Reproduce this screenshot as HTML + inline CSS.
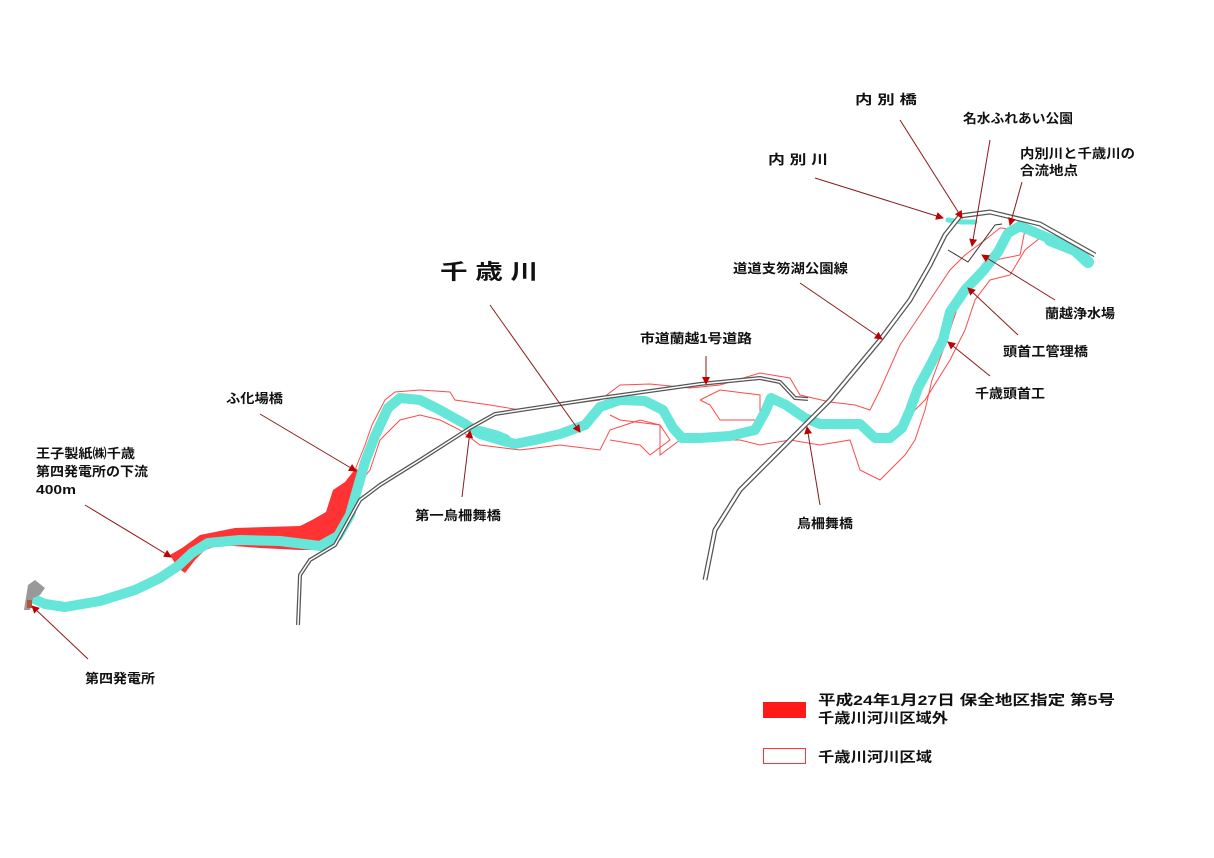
<!DOCTYPE html>
<html><head><meta charset="utf-8"><style>
html,body{margin:0;padding:0;background:#fff;}
svg{display:block;}
text{font-family:"Liberation Sans","Noto Sans CJK JP",sans-serif;font-weight:bold;fill:#111;}
</style></head><body>
<svg width="1214" height="858" viewBox="0 0 1214 858" xmlns="http://www.w3.org/2000/svg">
<defs>
<marker id="ar" markerWidth="8" markerHeight="8" refX="7" refY="4" orient="auto" markerUnits="userSpaceOnUse">
<path d="M0,0 L8,4 L0,8 z" fill="#c00000"/></marker>
</defs>

<g fill="none" stroke="#ff4a4a" stroke-width="1">
<polyline points="355,470 365,445 372,425 385,400 395,392 420,390 450,392 455,400 490,405 520,410 600,400 620,385 650,384 690,388 720,385 760,373 790,378 800,395 830,402 855,405 870,410 880,390 900,345 910,330 930,300 950,270 965,255 985,240 1000,228 1025,230 1020,255 985,262 960,300 950,330 945,345 932,380 925,410 915,440 905,455 890,470 880,480 860,470 850,440 820,445 790,440 760,445 740,440 700,440 680,440 660,455 660,425 640,420 610,430 600,450 560,445 520,450 480,445 460,430 440,420 420,415 400,420 380,440 370,470 362,480"/>
<polyline points="700,400 720,390 760,395 760,420 720,420 710,405 700,400"/>
<polyline points="610,415 620,420 660,425 670,440 650,455 640,445 610,440"/>
<polyline points="880,440 900,425 925,400 950,360 965,330 975,300 990,280 1010,275 1025,250 1040,238"/>
</g>

<polygon fill="#ff3333" points="170,555 182,548 200,535 235,528 300,526 312,520 326,512 333,490 345,482 356,468 362,476 358,500 350,520 340,538 325,550 300,550 260,548 220,545 205,550 195,560 185,573 178,568"/>

<g fill="none" stroke="#66e6d8" stroke-linejoin="round" stroke-linecap="round">
<polyline stroke-width="10" points="32,598 45,604 65,607 100,601 135,590 160,578 178,566 192,553 208,543 240,540 280,541 320,546 338,536 350,515 357,490 365,462 375,436 388,408 400,398 420,400 440,410 465,424 480,434 500,440 515,444 535,440 560,434 585,425 600,407 620,400 645,401 663,410 673,428 682,438 700,438 730,436 755,430 765,412 771,398 786,405 805,418 820,424 840,424 860,424 875,438 890,438 902,428 910,410 918,388 932,362 943,340 950,312 965,290 983,271 998,252 1008,233 1020,226 1048,238 1072,248 1088,262"/>
<polyline stroke-width="5" points="948,220 962,222 975,222"/>
<polyline stroke-width="12" points="480,432 495,436 505,440"/>
<polyline stroke-width="12" points="1050,240 1075,250 1088,262"/>
</g>

<polygon fill="#999" points="24,610 28,585 35,580 45,588 40,595 33,598 30,610"/>
<rect x="27" y="600" width="5" height="8" fill="#b0563a"/>

<g fill="none" stroke-linejoin="round">
<polyline stroke="#555" stroke-width="4" points="298,625 300,575 310,560 335,545 360,500 380,485 420,460 470,428 495,414 600,398 700,384 760,378 780,382 795,398 808,399"/>
<polyline stroke="#fff" stroke-width="1.5" points="298,625 300,575 310,560 335,545 360,500 380,485 420,460 470,428 495,414 600,398 700,384 760,378 780,382 795,398 808,399"/>
<polyline stroke="#555" stroke-width="5" points="705,580 715,530 740,490 790,440 830,400 880,340 910,300 930,265 945,235 960,216 990,212 1040,224 1095,255"/>
<polyline stroke="#fff" stroke-width="2.5" points="705,580 715,530 740,490 790,440 830,400 880,340 910,300 930,265 945,235 960,216 990,212 1040,224 1095,255"/>
<polyline stroke="#333" stroke-width="1" points="948,250 968,262 995,225 1002,224"/>
</g>

<g stroke="#8b1a1a" stroke-width="1" marker-end="url(#ar)">
<line x1="900" y1="120" x2="962" y2="218"/>
<line x1="990" y1="140" x2="972" y2="246"/>
<line x1="1022" y1="182" x2="1010" y2="225"/>
<line x1="815" y1="178" x2="943" y2="218"/>
<line x1="800" y1="283" x2="882" y2="339"/>
<line x1="1055" y1="300" x2="982" y2="255"/>
<line x1="1018" y1="335" x2="968" y2="288"/>
<line x1="990" y1="376" x2="948" y2="342"/>
<line x1="490" y1="305" x2="580" y2="432"/>
<line x1="706" y1="356" x2="706" y2="384"/>
<line x1="260" y1="414" x2="356" y2="471"/>
<line x1="85" y1="505" x2="171" y2="557"/>
<line x1="462" y1="497" x2="470" y2="431"/>
<line x1="820" y1="505" x2="807" y2="427"/>
<line x1="88" y1="659" x2="32" y2="606"/>
</g>

<g font-size="13" lengthAdjust="spacingAndGlyphs">
<text x="855" y="104" textLength="62" lengthAdjust="spacingAndGlyphs">内 別 橋</text>
<text x="963" y="123" textLength="110" lengthAdjust="spacingAndGlyphs">名水ふれあい公園</text>
<text x="1020" y="158" textLength="115" lengthAdjust="spacingAndGlyphs">内別川と千歳川の</text>
<text x="1020" y="175" textLength="58" lengthAdjust="spacingAndGlyphs">合流地点</text>
<text x="768" y="164" textLength="60" lengthAdjust="spacingAndGlyphs">内 別 川</text>
<text x="733" y="273" textLength="115" lengthAdjust="spacingAndGlyphs">道道支笏湖公園線</text>
<text x="1045" y="318" textLength="70" lengthAdjust="spacingAndGlyphs">蘭越浄水場</text>
<text x="1003" y="356" textLength="85" lengthAdjust="spacingAndGlyphs">頭首工管理橋</text>
<text x="975" y="398" textLength="70" lengthAdjust="spacingAndGlyphs">千歳頭首工</text>
<text x="640" y="343" textLength="112" lengthAdjust="spacingAndGlyphs">市道蘭越1号道路</text>
<text x="226" y="403" textLength="57" lengthAdjust="spacingAndGlyphs">ふ化場橋</text>
<text x="36" y="458" textLength="99" lengthAdjust="spacingAndGlyphs">王子製紙㈱千歳</text>
<text x="36" y="476" textLength="112" lengthAdjust="spacingAndGlyphs">第四発電所の下流</text>
<text x="36" y="494" textLength="40" lengthAdjust="spacingAndGlyphs">400m</text>
<text x="415" y="520" textLength="86" lengthAdjust="spacingAndGlyphs">第一烏柵舞橋</text>
<text x="797" y="528" textLength="56" lengthAdjust="spacingAndGlyphs">烏柵舞橋</text>
<text x="85" y="683" textLength="70" lengthAdjust="spacingAndGlyphs">第四発電所</text>
</g>
<text x="440" y="279" font-size="21" textLength="98" lengthAdjust="spacingAndGlyphs">千 歳 川</text>

<rect x="763" y="702" width="43" height="16" fill="#ff1a1a"/>
<text x="818" y="705" font-size="14" textLength="297" lengthAdjust="spacingAndGlyphs">平成24年1月27日 保全地区指定 第5号</text>
<text x="818" y="723" font-size="14" textLength="130" lengthAdjust="spacingAndGlyphs">千歳川河川区域外</text>
<rect x="763.5" y="748.5" width="42" height="15" fill="none" stroke="#ff3333" stroke-width="1"/>
<text x="818" y="762" font-size="14" textLength="114" lengthAdjust="spacingAndGlyphs">千歳川河川区域</text>
</svg>
</body></html>
